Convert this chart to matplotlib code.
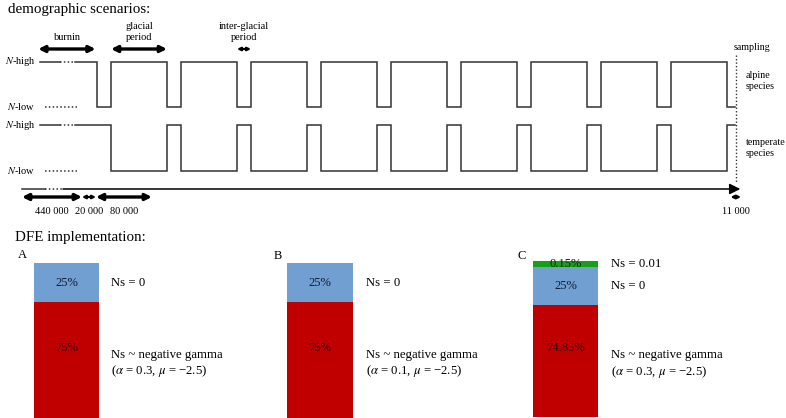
import numpy as np
import matplotlib
matplotlib.use("Agg")
import matplotlib.pyplot as plt

plt.rcParams['font.family'] = ['Liberation Serif', 'DejaVu Serif']
plt.rcParams['mathtext.fontset'] = 'stix'

# demographic scenario (times in kyr)
burnin_kyr = 440
glacial_kyr = 80
interglacial_kyr = 20
n_cycles = 10
final_kyr = 11
burnin_shown = 81          # compressed length drawn for the burn-in
arrow_labels = ['440 000', '20 000', '80 000']
end_label = '11 000'

# DFE panels
panels = ['A', 'B', 'C']
pct_values = [[75, 25], [75, 25], [74.85, 25, 0.15]]
pct_labels = [['75%', '25%'], ['75%', '25%'], ['74.85%', '25%', '0.15%']]
ns_labels = [
    ['Ns ~ negative gamma\n($\\alpha$ = 0.3, $\\mu$ = \u22122.5)', 'Ns = 0'],
    ['Ns ~ negative gamma\n($\\alpha$ = 0.1, $\\mu$ = \u22122.5)', 'Ns = 0'],
    ['Ns ~ negative gamma\n($\\alpha$ = 0.3, $\\mu$ = \u22122.5)', 'Ns = 0', 'Ns = 0.01'],
]
seg_colors = ['#c00000', '#729fd1', '#16a016']
txt_colors = ['#3e0000', '#101c33', '#0a2a0a']

W, H = 786, 418
fig = plt.figure(figsize=(W / 100, H / 100), dpi=100)

# ---- top: demographic scenarios, x in kyr, y in pixel rows
scale = 0.7   # px per kyr
x0 = 97       # pixel of end of burn-in
ax = fig.add_axes([0, 0, 1, 1])
ax.set_xlim(-x0 / scale, (W - x0) / scale)
ax.set_ylim(H, 0)
ax.axis('off')

def px(x):
    return (x - x0) / scale

period = glacial_kyr + interglacial_kyr
t_sample = (n_cycles - 1) * period + final_kyr
rows = {'alpine': (62, 107), 'temperate': (125, 171)}

edges = [0]
for k in range(n_cycles):
    edges += [k * period + interglacial_kyr, (k + 1) * period]
edges = np.array(edges[:-1] + [t_sample], dtype=float)
edges = edges[edges <= t_sample]

for name, (yh, yl) in rows.items():
    if name == 'alpine':
        levels = [yl if i % 2 == 0 else yh for i in range(len(edges) - 1)]
    else:
        levels = [yh if i % 2 == 0 else yl for i in range(len(edges) - 1)]
    xs = [-31, 0]
    ys = [yh, yh]
    for i in range(len(edges) - 1):
        xs += [edges[i], edges[i + 1]]
        ys += [levels[i], levels[i]]
    ax.plot(xs, ys, color='#333333', lw=1.1, solid_joinstyle='miter')
    ax.plot([-burnin_shown, -53], [yh, yh], color='#333333', lw=1.1)
    ax.plot([-53, -31], [yh, yh], color='#333333', lw=1.1, ls=(0, (1, 1.5)))
    ax.plot([-74, -28], [yl, yl], color='#333333', lw=1.1, ls=(0, (1, 1.5)))
    ax.text(px(5), yh, '$N$-high', fontsize=7.5, va='center', ha='left')
    ax.text(px(7), yl, '$N$-low', fontsize=7.5, va='center', ha='left')

ax.text(px(746), 81, 'alpine\nspecies', fontsize=7.2, va='center', ha='left', linespacing=1.3)
ax.text(px(746), 148, 'temperate\nspecies', fontsize=7.2, va='center', ha='left', linespacing=1.3)
ax.text(px(734), 47, 'sampling', fontsize=7.2, va='center', ha='left')
ax.plot([t_sample + 1.5, t_sample + 1.5], [55, 183], color='#333333', lw=1, ls=(0, (1, 1.5)))

ax.text(px(8), 9, 'demographic scenarios:', fontsize=10.8, va='center', ha='left')
ax.text(px(15), 237, 'DFE implementation:', fontsize=10.8, va='center', ha='left')

def dbl_arrow(xa, xb, y):
    length_px = abs(xb - xa) * scale
    if length_px > 30:
        ms, lw = 9, 2.4
    else:
        ms, lw = 4.5, 1.6
    ax.annotate('', xy=(xb, y), xytext=(xa, y),
                arrowprops=dict(arrowstyle='<|-|>', color='black', lw=lw,
                                mutation_scale=ms, shrinkA=0, shrinkB=0))

# period arrows
dbl_arrow(-84, -2, 49)
dbl_arrow(interglacial_kyr, period, 49)
dbl_arrow(2 * period, 2 * period + interglacial_kyr, 49)
ax.text(px(67), 38, 'burnin', fontsize=7.5, ha='center', va='center')
ax.text((interglacial_kyr + period) / 2, 32, 'glacial\nperiod', fontsize=7.5,
        ha='center', va='center', linespacing=1.3)
ax.text(2 * period + interglacial_kyr / 2, 32, 'inter-glacial\nperiod', fontsize=7.5,
        ha='center', va='center', linespacing=1.3)

# time axis
ax.plot([px(22), px(45)], [189, 189], color='#333333', lw=1.1)
ax.plot([px(45), px(63)], [189, 189], color='#333333', lw=1.1, ls=(0, (1, 1.5)))
ax.annotate('', xy=(t_sample + 8, 189), xytext=(px(63), 189),
            arrowprops=dict(arrowstyle='-|>', color='black', lw=1.1,
                            mutation_scale=16, shrinkA=0, shrinkB=0))

b0 = -1.5
dbl_arrow(px(22), b0 - interglacial_kyr, 197)
dbl_arrow(b0 - interglacial_kyr, b0, 197)
dbl_arrow(b0, b0 + glacial_kyr, 197)
ax.text((px(22) + b0 - interglacial_kyr) / 2, 211, arrow_labels[0], fontsize=7.5, ha='center', va='center')
ax.text(b0 - interglacial_kyr / 2, 211, arrow_labels[1], fontsize=7.5, ha='center', va='center')
ax.text(b0 + glacial_kyr / 2, 211, arrow_labels[2], fontsize=7.5, ha='center', va='center')
dbl_arrow(t_sample - 6, t_sample + 9, 197)
ax.text(t_sample + 1.5, 211, end_label, fontsize=7.5, ha='center', va='center')

# ---- bottom: DFE bars
boxes = [(34, 263, 65, 156), (287, 263, 66, 156), (533, 261, 65, 156)]
letter_pos = [(18, 255), (274, 256), (518, 256)]
for p, (bx, by, bw, bh) in enumerate(boxes):
    bax = fig.add_axes([bx / W, 1 - (by + bh) / H, bw / W, bh / H])
    bax.axis('off')
    vals = np.array(pct_values[p], dtype=float)
    shown = np.maximum(vals, 4)
    shown = shown / shown.sum() * 100
    bottom = 0
    for i, v in enumerate(shown):
        bax.bar(0, v, bottom=bottom, width=1, color=seg_colors[i], linewidth=0)
        if i == 0:
            ty = bottom + v * 0.61
            ly = bottom + v * 0.47
        else:
            ty = bottom + v / 2
            ly = bottom + v / 2
        bax.text(0, ty, pct_labels[p][i], fontsize=9, ha='center', va='center',
                 color=txt_colors[i])
        bax.text(0.6 + 6 / bw, ly, ns_labels[p][i], fontsize=9.2, ha='left',
                 va='center', linespacing=1.25)
        bottom += v
    bax.set_xlim(-0.5, 0.5)
    bax.set_ylim(0, 100)
    ax.text(px(letter_pos[p][0]), letter_pos[p][1], panels[p], fontsize=9,
            ha='left', va='center')

fig.savefig('out.png', dpi=100)
